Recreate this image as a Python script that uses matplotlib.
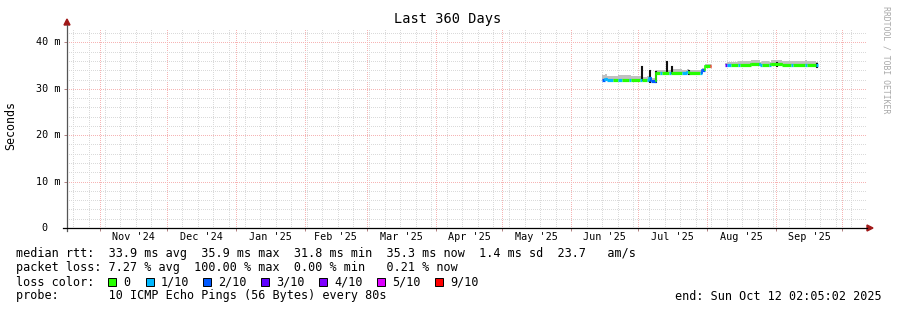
"""SmokePing style 'Last 360 Days' latency graph, redrawn with matplotlib."""

from datetime import datetime

import matplotlib
matplotlib.use("Agg")
import matplotlib.dates as mdates
import matplotlib.pyplot as plt
import numpy as np
from matplotlib.lines import Line2D
from matplotlib.patches import Polygon, Rectangle
from matplotlib.ticker import MultipleLocator

plt.rcParams["font.family"] = ["DejaVu Sans Mono"]

W, H = 897, 310
START = datetime(2024, 10, 17, 2, 5, 2)
END = datetime(2025, 10, 12, 2, 5, 2)

# step intervals: each value holds from seg_edges[i] to seg_edges[i + 1]
seg_edges = ["2025-06-15", "2025-06-16", "2025-06-17", "2025-06-20", "2025-06-22",
             "2025-06-24", "2025-06-27", "2025-06-28", "2025-07-02", "2025-07-03",
             "2025-07-05", "2025-07-06", "2025-07-07", "2025-07-09", "2025-07-11",
             "2025-07-12", "2025-07-15", "2025-07-16", "2025-07-21", "2025-07-23",
             "2025-07-24", "2025-07-29", "2025-07-30", "2025-07-31", "2025-08-02 12:00",
             "2025-08-03", "2025-08-09", "2025-08-10", "2025-08-12", "2025-08-15",
             "2025-08-16", "2025-08-21", "2025-08-25", "2025-08-26", "2025-08-29",
             "2025-08-30", "2025-09-04", "2025-09-08", "2025-09-09", "2025-09-14",
             "2025-09-15", "2025-09-19", "2025-09-20"]
median_ms = [31.8, 32.2, 31.8, 31.8, 31.8, 31.8, 31.8, 31.8, 31.9, 31.8,
             31.8, 32.3, 31.7, 33.4, 33.4, 33.4, 33.4, 33.4, 33.4, 33.6,
             33.4, 33.4, 34.0, 35.0, 35.0, np.nan, 35.1, 35.1, 35.1, 35.1,
             35.1, 35.4, 35.1, 35.1, 35.1, 35.3, 35.1, 35.1, 35.1, 35.2,
             35.1, 35.2]
loss_tenths = [2, 1, 1, 0, 1, 0, 1, 0, 1, 0,
               1, 1, 2, 0, 1, 0, 1, 0, 1, 1,
               0, 1, 2, 0, 9, -1, 3, 1, 0, 1,
               0, 0, 1, 0, 1, 0, 0, 1, 0, 1,
               0, 1]
smoke_hi_ms = [33.0, 33.1, 32.8, 32.7, 32.9, 33.0, 33.0, 32.8, 32.7, 32.6,
               32.7, 33.0, 32.4, 34.1, 34.0, 34.0, 34.1, 34.2, 34.0, 34.3,
               34.0, 34.1, 34.5, 35.4, 35.4, np.nan, 35.6, 35.8, 35.8, 35.9,
               36.0, 36.1, 35.8, 35.9, 35.8, 36.1, 35.9, 35.9, 36.0, 36.1,
               36.0, 35.8]

# dark spikes in the smoke
spike_dates = ["2025-07-03", "2025-07-06 12:00", "2025-07-09", "2025-07-14",
               "2025-07-16 12:00", "2025-07-24", "2025-09-01 12:00", "2025-09-19 18:00"]
spike_lo = [31.8, 31.5, 31.5, 33.4, 33.4, 33.2, 35.0, 34.8]
spike_hi = [34.7, 33.9, 33.7, 35.8, 34.7, 33.9, 35.6, 35.3]

loss_keys = [0, 1, 2, 3, 4, 5, 9]
loss_labels = ["0", "1/10", "2/10", "3/10", "4/10", "5/10", "9/10"]
loss_hex = ["#26ff00", "#00b8ff", "#0059ff", "#5e00ff", "#7e00ff", "#dd00ff", "#ff0000"]
LOSS_COLOR = dict(zip(loss_keys, loss_hex))

y_ticks = [0, 10, 20, 30, 40]

stats_lines = [
    "median rtt:  33.9 ms avg  35.9 ms max  31.8 ms min  35.3 ms now  1.4 ms sd  23.7   am/s",
    "packet loss: 7.27 % avg  100.00 % max  0.00 % min   0.21 % now",
    "loss color:",
    "probe:       10 ICMP Echo Pings (56 Bytes) every 80s",
]
end_text = "end: Sun Oct 12 02:05:02 2025"

# %%
edges = [datetime.fromisoformat(s) for s in seg_edges]
spikes = [datetime.fromisoformat(s) for s in spike_dates]

fig = plt.figure(figsize=(W / 100, H / 100), dpi=100)
fig.patch.set_facecolor("white")
ax = fig.add_axes([67 / W, 1 - 228 / H, 800 / W, 200 / H])
ax.set_xlim(START, END)
ax.set_ylim(0, 43.1)
for s in ax.spines.values():
    s.set_visible(False)

ax.xaxis.set_major_locator(mdates.MonthLocator())
ax.xaxis.set_minor_locator(mdates.WeekdayLocator(byweekday=mdates.SU))
ax.yaxis.set_major_locator(MultipleLocator(10))
ax.yaxis.set_minor_locator(MultipleLocator(2))
ax.grid(which="minor", color="#dadada", linestyle=(0, (1, 2)), linewidth=0.72,
        antialiased=False)
ax.grid(which="major", color="#f6b4b4", linestyle=(0, (1, 2)), linewidth=0.72,
        antialiased=False)
ax.tick_params(which="both", labelbottom=False, labelleft=False)
ax.tick_params(which="major", length=2, width=0.7, color="#b08080")
ax.tick_params(which="minor", length=0)
ax.set_axisbelow(True)

# smoke
for i in range(len(median_ms)):
    if np.isnan(median_ms[i]):
        continue
    ax.fill_between([edges[i], edges[i + 1]], median_ms[i], smoke_hi_ms[i],
                    color="#c0c0c0", linewidth=0)

for d, lo, hi in zip(spikes, spike_lo, spike_hi):
    ax.plot([d, d], [lo, hi], color="#111111", linewidth=1.5)

# median line coloured by loss
for i in range(len(median_ms)):
    if np.isnan(median_ms[i]):
        continue
    c = LOSS_COLOR[loss_tenths[i]]
    ax.plot([edges[i], edges[i + 1]], [median_ms[i], median_ms[i]],
            color=c, linewidth=2.3, solid_capstyle="butt")
    if i > 0 and not np.isnan(median_ms[i - 1]) and median_ms[i - 1] != median_ms[i]:
        ax.plot([edges[i], edges[i]], [median_ms[i - 1], median_ms[i]],
                color=c, linewidth=1.2)

# month labels centred on each month
xtf = ax.get_xaxis_transform()
m = datetime(2024, 10, 1)
while m < END:
    nxt = datetime(m.year + (m.month == 12), m.month % 12 + 1, 1)
    mid = m + (nxt - m) / 2
    if START < mid < END:
        ax.text(mid, -9.5 / 200, mid.strftime("%b '%y"), transform=xtf,
                ha="center", va="center", fontsize=7.3)
    m = nxt

yt = ax.get_yaxis_transform()
for v in y_ticks:
    label = "0" if v == 0 else f"{v} m"
    xr = 48 if v == 0 else 60
    ax.text((xr - 67) / 800, v, label, transform=yt, ha="right", va="center",
            fontsize=7.3)

# axes lines and arrows
fig.add_artist(Line2D([67 / W, 67 / W], [1 - 231 / H, 1 - 25 / H],
                      color="#555555", linewidth=0.9))
fig.add_artist(Line2D([63 / W, 867 / W], [1 - 228 / H, 1 - 228 / H],
                      color="black", linewidth=0.9))
fig.add_artist(Polygon([[64 / W, 1 - 25 / H], [70 / W, 1 - 25 / H], [67 / W, 1 - 19 / H]],
                       closed=True, color="#a01818", transform=fig.transFigure))
fig.add_artist(Polygon([[867 / W, 1 - 225 / H], [867 / W, 1 - 231 / H], [873 / W, 1 - 228 / H]],
                       closed=True, color="#a01818", transform=fig.transFigure))

# texts
fig.text(448 / W, 1 - 19 / H, "Last 360 Days", ha="center", va="center", fontsize=9.8)
fig.text(11 / W, 1 - 126 / H, "Seconds", rotation=90, ha="center", va="center",
         fontsize=8.4)
fig.text(886 / W, 1 - 60 / H, "RRDTOOL / TOBI OETIKER", rotation=270, ha="center",
         va="center", fontsize=5.9, color="#a8a8a8")

row_y = [254, 268, 282, 296]
for txt, yy in zip(stats_lines, row_y):
    fig.text(16 / W, 1 - yy / H, txt, ha="left", va="center", fontsize=8.5)
fig.text(882 / W, 1 - 296 / H, end_text, ha="right", va="center", fontsize=8.5)

sq_x = [108, 146, 203, 261, 319, 377, 435]
for x, lab, col in zip(sq_x, loss_labels, loss_hex):
    fig.add_artist(Rectangle((x / W, 1 - 286 / H), 8 / W, 8 / H, transform=fig.transFigure,
                             facecolor=col, edgecolor="black", linewidth=0.7))
    fig.text((x + 15) / W, 1 - 282 / H, lab, ha="left", va="center", fontsize=8.5)

fig.savefig("out.png", dpi=100)
